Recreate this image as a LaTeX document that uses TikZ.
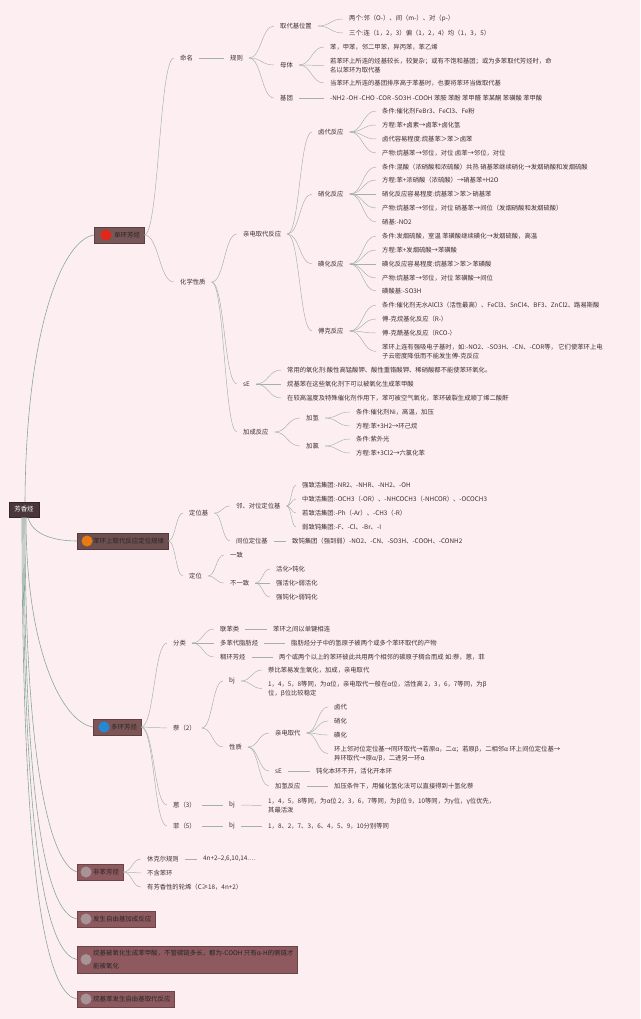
\documentclass[tikz,border=0pt]{standalone}
\usepackage{fontspec}
\setmainfont{Noto Sans CJK SC}
\usepackage{tikz}
\usetikzlibrary{calc}
\definecolor{paper}{HTML}{FDEFF1}
\definecolor{ink}{HTML}{3A3030}
\definecolor{linec}{HTML}{A3B2A8}
\definecolor{trunkc}{HTML}{86A898}
\definecolor{rootc}{HTML}{4B3739}
\definecolor{topA}{HTML}{775757}
\definecolor{topB}{HTML}{6D4F50}
\definecolor{topC}{HTML}{7D5557}
\definecolor{topD}{HTML}{8E5A5F}
\definecolor{dotR}{HTML}{E3261A}
\definecolor{dotO}{HTML}{E87A12}
\definecolor{dotB}{HTML}{2489D4}
\definecolor{dotG}{HTML}{A69496}
\newdimen\pxl \pxl=0.03cm
\newcommand\leaffont{\fontsize{5.4pt}{7.6pt}\selectfont}
\newcommand\topicfont{\fontsize{5.5pt}{10.5pt}\selectfont}

\tikzset{
  leaf/.style={anchor=west, inner sep=1pt, outer xsep=5\pxl, xshift=-6\pxl, align=left, text=ink},
  topic/.style={anchor=west, draw=#1!75!black, fill=#1, text=black!85, inner xsep=4\pxl,
    inner ysep=0pt, minimum height=16\pxl, align=left, font=\topicfont},
  icon/.style={circle, fill=#1, minimum size=11\pxl, inner sep=0pt},
  br/.style={draw=linec, line width=0.4pt},
  trunk/.style={draw=trunkc, line width=0.5pt},
  mapcurve/.style={to path={let \p1=(\tikztostart), \p2=(\tikztotarget) in
    .. controls ({0.5*\x1+0.5*\x2},\y1) and ({0.5*\x1+0.5*\x2},\y2) .. (\tikztotarget)}}
}

\begin{document}
\begin{tikzpicture}[x=0.03cm, y=-0.03cm, every node/.style={font=\leaffont}]
  \fill[paper] (0,0) rectangle (640,1019);
  \useasboundingbox (0,0) rectangle (640,1019);

  \node[draw=rootc!70!black, fill=rootc, text=white, minimum width=30\pxl, minimum height=15\pxl,
    inner sep=1pt, font=\topicfont] (root) at (24,509.5) {芳香烃};

  % top level topics
  \node[topic=topA] (dh) at (94,235) {\hspace*{16\pxl}单环芳烃};
  \node[icon=dotR] (dh-i) at ([xshift=12\pxl]dh.west) {};
  \node[topic=topB] (dw) at (77,541) {\hspace*{12\pxl}苯环上取代反应定位规律};
  \node[icon=dotO] (dw-i) at ([xshift=10\pxl]dw.west) {};
  \node[topic=topC] (dhh) at (93,727) {\hspace*{14\pxl}多环芳烃};
  \node[icon=dotB] (dhh-i) at ([xshift=11\pxl]dhh.west) {};
  \node[topic=topD] (fb) at (77,872) {\hspace*{12\pxl}非苯芳烃};
  \node[icon=dotG] (fb-i) at ([xshift=9\pxl]fb.west) {};
  \node[topic=topD] (zj) at (77,919) {\hspace*{12\pxl}发生自由基加成反应};
  \node[icon=dotG] (zj-i) at ([xshift=9\pxl]zj.west) {};
  \node[topic=topD, minimum height=27\pxl] (yh) at (77,959.5)
    {\hspace*{12\pxl}烷基被氧化生成苯甲酸，不管碳链多长，都为-COOH 只有α-H的侧链才\\\hspace*{12\pxl}能被氧化};
  \node[icon=dotG] (yh-i) at ([xshift=9\pxl]yh.west) {};
  \node[topic=topD] (zq) at (77,999) {\hspace*{12\pxl}烷基苯发生自由基取代反应};
  \node[icon=dotG] (zq-i) at ([xshift=9\pxl]zq.west) {};

  \draw[trunk] ([xshift=1\pxl]root.north) .. controls (26,330) and (62,240) .. (dh.west);
  \draw[trunk] ([xshift=4\pxl]root.south) .. controls (32,535) and (55,541) .. (dw.west);
  \draw[trunk] ([xshift=2\pxl]root.south) .. controls (26,650) and (62,722) .. (dhh.west);
  \draw[trunk] ([xshift=1\pxl]root.south) .. controls (25,790) and (55,866) .. (fb.west);
  \draw[trunk] (root.south) .. controls (24,840) and (52,915) .. (zj.west);
  \draw[trunk] ([xshift=-1\pxl]root.south) .. controls (23,880) and (52,955) .. (yh.west);
  \draw[trunk] ([xshift=-2\pxl]root.south) .. controls (22,920) and (52,995) .. (zq.west);

  % 单环芳烃
  \node[leaf] (mm) at (180,58) {命名};
  \node[leaf] (gz) at (230,58) {规则};
  \node[leaf] (qdw) at (280,26) {取代基位置};
  \node[leaf] (qdw1) at (349,19) {两个:邻（O-）、间（m-）、对（p-）};
  \node[leaf] (qdw2) at (349,33) {三个:连（1，2，3）偏（1，2，4）均（1，3，5）};
  \node[leaf] (mt) at (280,65) {母体};
  \node[leaf] (mt1) at (330,47) {苯，甲苯，邻二甲苯，异丙苯，苯乙烯};
  \node[leaf] (mt2) at (330,65.5) {若苯环上所连的烃基较长，较复杂；或有不饱和基团；或为多苯取代芳烃时，命\\名以苯环为取代基};
  \node[leaf] (mt3) at (330,83) {当苯环上所连的基团排序高于苯基时，也要将苯环当做取代基};
  \node[leaf] (jt) at (280,98) {基团};
  \node[leaf] (jt1) at (330,98) {-NH2 -OH -CHO -COR -SO3H -COOH 苯胺 苯酚 苯甲醛 苯某酮 苯磺酸 苯甲酸};

  \node[leaf] (hx) at (180,282) {化学性质};
  \node[leaf] (qd) at (243,234) {亲电取代反应};
  \node[leaf] (ld) at (318,132) {卤代反应};
  \node[leaf] (ld1) at (382,111) {条件:催化剂FeBr3、FeCl3、Fe粉};
  \node[leaf] (ld2) at (382,125) {方程:苯+卤素→卤苯+卤化氢};
  \node[leaf] (ld3) at (382,139) {卤代容易程度:烷基苯＞苯＞卤苯};
  \node[leaf] (ld4) at (382,153) {产物:烷基苯→邻位，对位 卤苯→邻位，对位};
  \node[leaf] (xh) at (318,194) {硝化反应};
  \node[leaf] (xh1) at (382,167) {条件:混酸（浓硝酸和浓硫酸）共热 硝基苯继续硝化→发烟硝酸和发烟硫酸};
  \node[leaf] (xh2) at (382,180) {方程:苯+浓硝酸（浓硫酸）→硝基苯+H2O};
  \node[leaf] (xh3) at (382,194) {硝化反应容易程度:烷基苯＞苯＞硝基苯};
  \node[leaf] (xh4) at (382,208) {产物:烷基苯→邻位，对位 硝基苯→间位（发烟硝酸和发烟硫酸）};
  \node[leaf] (xh5) at (382,222) {硝基:-NO2};
  \node[leaf] (hh) at (318,264) {磺化反应};
  \node[leaf] (hh1) at (382,236) {条件:发烟硫酸，室温 苯磺酸继续磺化→发烟硫酸，高温};
  \node[leaf] (hh2) at (382,250) {方程:苯+发烟硫酸→苯磺酸};
  \node[leaf] (hh3) at (382,264) {磺化反应容易程度:烷基苯＞苯＞苯磺酸};
  \node[leaf] (hh4) at (382,278) {产物:烷基苯→邻位，对位 苯磺酸→间位};
  \node[leaf] (hh5) at (382,291) {磺酸基:-SO3H};
  \node[leaf] (fk) at (318,331) {傅克反应};
  \node[leaf] (fk1) at (382,305) {条件:催化剂无水AlCl3（活性最高）、FeCl3、SnCl4、BF3、ZnCl2、路易斯酸};
  \node[leaf] (fk2) at (382,319) {傅-克烷基化反应（R-）};
  \node[leaf] (fk3) at (382,333) {傅-克酰基化反应（RCO-）};
  \node[leaf] (fk4) at (382,351.5) {苯环上连有强吸电子基时，如:-NO2、-SO3H、-CN、-COR等， 它们使苯环上电\\子云密度降低而不能发生傅-克反应};
  \node[leaf] (se) at (243,384) {sE};
  \node[leaf] (se1) at (287,370) {常用的氧化剂:酸性高锰酸钾、酸性重铬酸钾、稀硝酸都不能使苯环氧化。};
  \node[leaf] (se2) at (287,384) {烷基苯在这些氧化剂下可以被氧化生成苯甲酸};
  \node[leaf] (se3) at (287,398) {在较高温度及特殊催化剂作用下，苯可被空气氧化，苯环破裂生成顺丁烯二酸酐};
  \node[leaf] (jc) at (243,432) {加成反应};
  \node[leaf] (jq) at (306,418) {加氢};
  \node[leaf] (jq1) at (356,412) {条件:催化剂Ni，高温，加压};
  \node[leaf] (jq2) at (356,426) {方程:苯+3H2→环己烷};
  \node[leaf] (jl) at (306,446) {加氯};
  \node[leaf] (jl1) at (356,439) {条件:紫外光};
  \node[leaf] (jl2) at (356,453) {方程:苯+3Cl2→六氯化苯};

  % 苯环上取代反应定位规律
  \node[leaf] (dwj) at (189,513) {定位基};
  \node[leaf] (ldw) at (236,506) {邻、对位定位基};
  \node[leaf] (ldw1) at (302,485) {强致活集团:-NR2、-NHR、-NH2、-OH};
  \node[leaf] (ldw2) at (302,499) {中致活集团:-OCH3（-OR）、-NHCOCH3（-NHCOR）、-OCOCH3};
  \node[leaf] (ldw3) at (302,513) {若致活集团:-Ph（-Ar）、-CH3（-R）};
  \node[leaf] (ldw4) at (302,527) {弱致钝集团:-F、-Cl、-Br、-I};
  \node[leaf] (jdw) at (236,541) {间位定位基};
  \node[leaf] (jdw1) at (292,541) {致钝集团（强到弱）-NO2、-CN、-SO3H、-COOH、-CONH2};
  \node[leaf] (dwe) at (189,576) {定位};
  \node[leaf] (yz) at (230,555) {一致};
  \node[leaf] (byz) at (230,583) {不一致};
  \node[leaf] (byz1) at (276,569) {活化>钝化};
  \node[leaf] (byz2) at (276,583) {强活化>弱活化};
  \node[leaf] (byz3) at (276,597) {强钝化>弱钝化};

  % 多环芳烃
  \node[leaf] (fl) at (173,643) {分类};
  \node[leaf] (lb) at (220,629) {联苯类};
  \node[leaf] (lb1) at (273,629) {苯环之间以单键相连};
  \node[leaf] (db) at (220,643) {多苯代脂肪烃};
  \node[leaf] (db1) at (291,643) {脂肪烃分子中的氢原子被两个或多个苯环取代的产物};
  \node[leaf] (ch) at (220,657) {稠环芳烃};
  \node[leaf] (ch1) at (279,657) {两个或两个以上的苯环彼此共用两个相邻的碳原子稠合而成 如:萘，蒽，菲};
  \node[leaf] (nai) at (173,728) {萘（2）};
  \node[leaf] (nbj) at (229,681) {bj};
  \node[leaf] (nbj1) at (268,670) {萘比苯易发生氧化，加成，亲电取代};
  \node[leaf] (nbj2) at (268,688.5) {1，4，5，8等同，为α位，亲电取代一般在α位，活性高 2，3，6，7等同，为β\\位，β位比较稳定};
  \node[leaf] (xz) at (229,747) {性质};
  \node[leaf] (nqd) at (275,733) {亲电取代};
  \node[leaf] (nqd1) at (334,707) {卤代};
  \node[leaf] (nqd2) at (334,721) {硝化};
  \node[leaf] (nqd3) at (334,735) {磺化};
  \node[leaf] (nqd4) at (334,753.5) {环上邻对位定位基→同环取代→若原α，二α；若原β，二相邻α 环上间位定位基→\\异环取代→原α/β，二进另一环α};
  \node[leaf] (nse) at (275,771) {sE};
  \node[leaf] (nse1) at (316,771) {钝化本环不开，活化开本环};
  \node[leaf] (njq) at (275,786) {加氢反应};
  \node[leaf] (njq1) at (334,786) {加压条件下，用催化氢化法可以直接得到十氢化萘};
  \node[leaf] (en) at (173,805) {蒽（3）};
  \node[leaf] (ebj) at (229,805) {bj};
  \node[leaf] (ebj1) at (268,805.5) {1，4，5，8等同，为α位 2，3，6，7等同，为β位 9，10等同，为γ位，γ位优先，\\其最活泼};
  \node[leaf] (fei) at (173,826) {菲（5）};
  \node[leaf] (fbj) at (229,826) {bj};
  \node[leaf] (fbj1) at (268,826) {1，8、2，7、3，6、4，5、9，10分别等同};

  % 非苯芳烃
  \node[leaf] (hk) at (147,859) {休克尔规则};
  \node[leaf] (hk1) at (203,859) {4n+2--2,6,10,14.…};
  \node[leaf] (bh) at (147,873) {不含苯环};
  \node[leaf] (lx) at (147,887) {有芳香性的轮烯（C≥18，4n+2）};

  % connectors
  \foreach \a/\b in {dh/mm, dh/hx, mm/gz, gz/qdw, gz/mt, gz/jt, qdw/qdw1, qdw/qdw2,
      mt/mt1, mt/mt2, mt/mt3, jt/jt1, hx/qd, hx/se, hx/jc, qd/ld, qd/xh, qd/hh, qd/fk,
      ld/ld1, ld/ld2, ld/ld3, ld/ld4, xh/xh1, xh/xh2, xh/xh3, xh/xh4, xh/xh5,
      hh/hh1, hh/hh2, hh/hh3, hh/hh4, hh/hh5, fk/fk1, fk/fk2, fk/fk3, fk/fk4,
      se/se1, se/se2, se/se3, jc/jq, jc/jl, jq/jq1, jq/jq2, jl/jl1, jl/jl2}
    \draw[br] (\a.east) to[mapcurve] (\b.west);
  \foreach \a/\b in {dw/dwj, dw/dwe, dwj/ldw, dwj/jdw, ldw/ldw1, ldw/ldw2, ldw/ldw3, ldw/ldw4,
      jdw/jdw1, dwe/yz, dwe/byz, byz/byz1, byz/byz2, byz/byz3}
    \draw[br] (\a.east) to[mapcurve] (\b.west);
  \foreach \a/\b in {dhh/fl, dhh/nai, dhh/en, dhh/fei, fl/lb, fl/db, fl/ch, lb/lb1, db/db1, ch/ch1,
      nai/nbj, nai/xz, nbj/nbj1, nbj/nbj2, xz/nqd, xz/nse, xz/njq, nqd/nqd1, nqd/nqd2, nqd/nqd3,
      nqd/nqd4, nse/nse1, njq/njq1, en/ebj, ebj/ebj1, fei/fbj, fbj/fbj1,
      fb/hk, fb/bh, fb/lx, hk/hk1}
    \draw[br] (\a.east) to[mapcurve] (\b.west);
\end{tikzpicture}
\end{document}
